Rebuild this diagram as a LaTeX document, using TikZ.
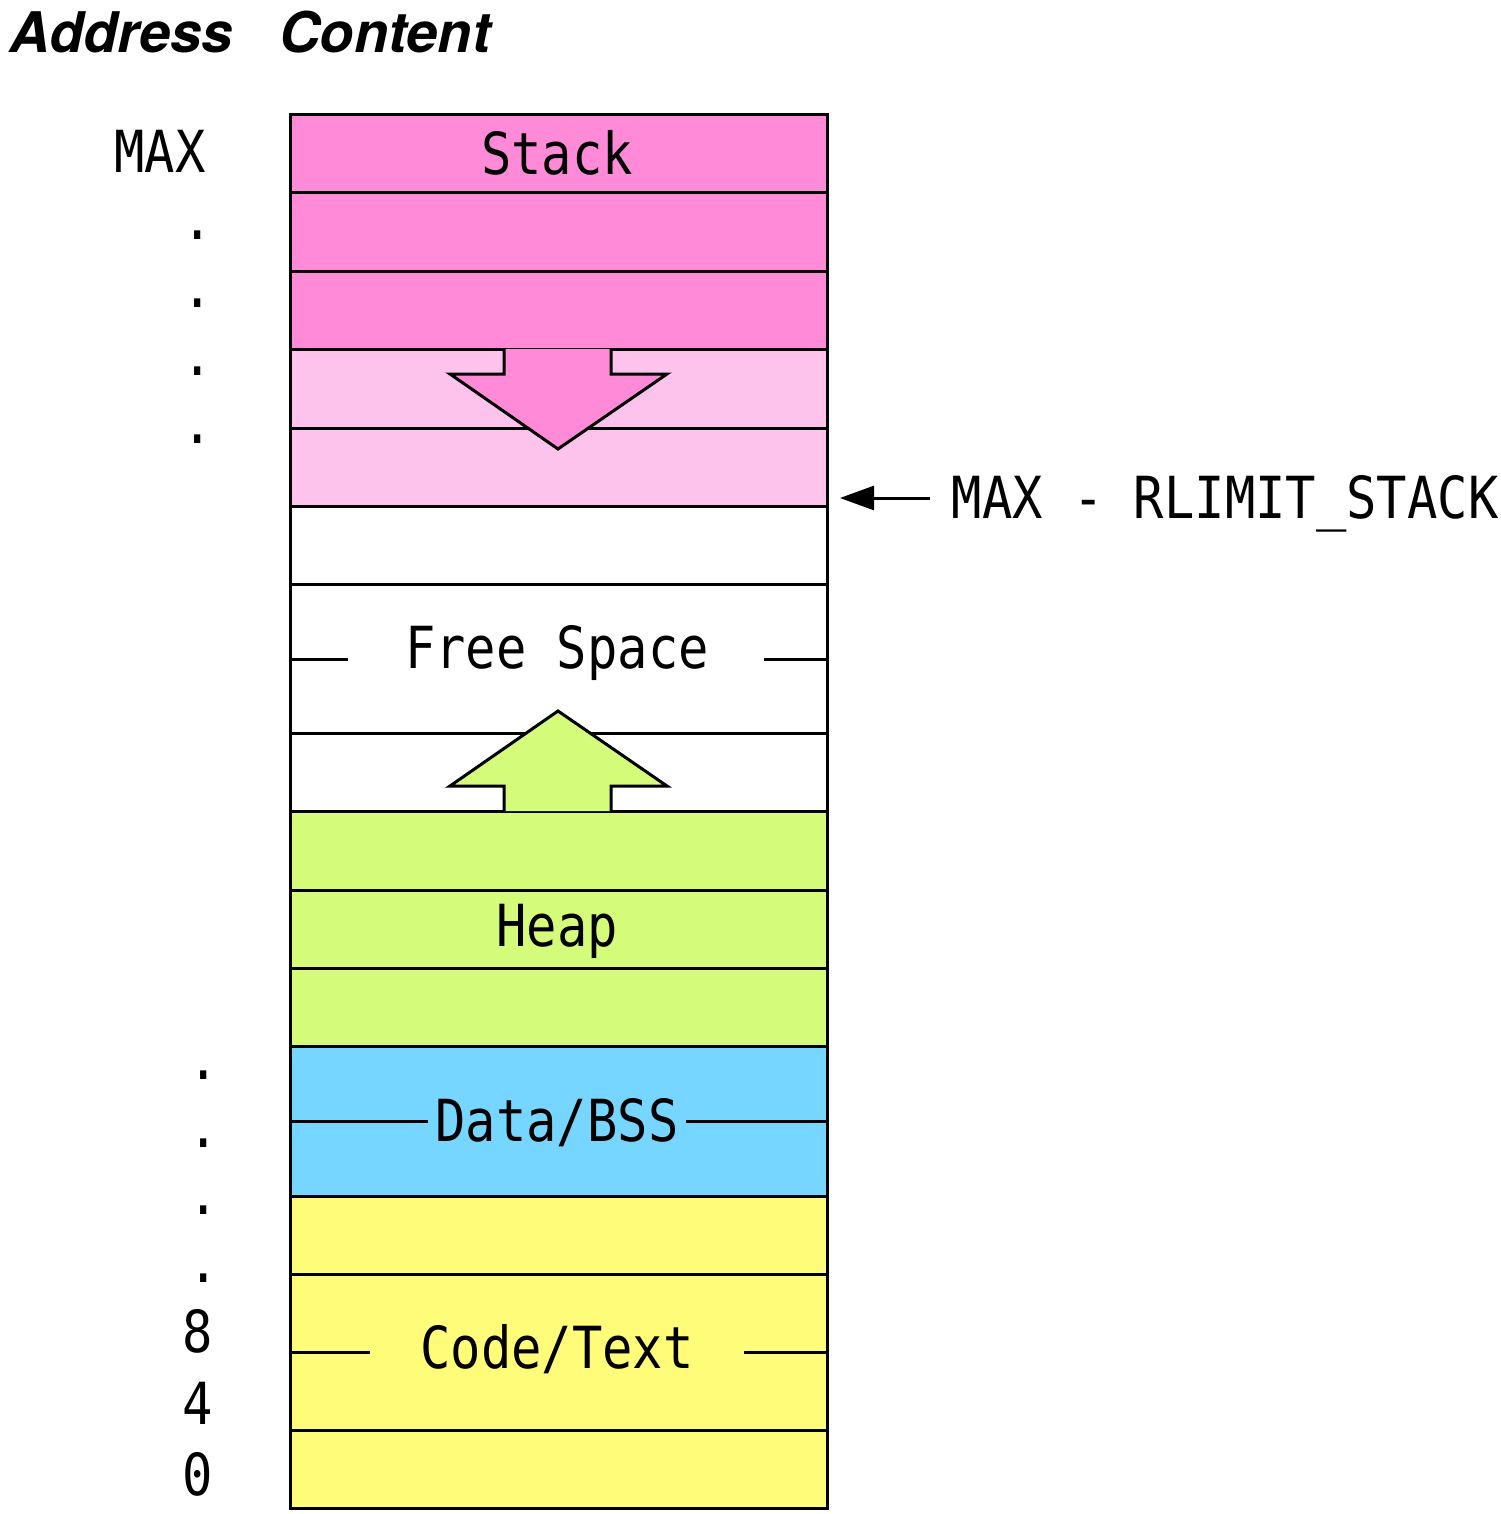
\documentclass[tikz,border=0pt]{standalone}
\usepackage{fontspec}
\setmonofont[FakeStretch=0.87]{DejaVu Sans Mono}
\newfontfamily\headfont{TeX Gyre Heros}
\usetikzlibrary{arrows.meta}
\definecolor{stackc}{HTML}{FF8AD8}
\definecolor{stacklt}{HTML}{FEC3EC}
\definecolor{heapc}{HTML}{D4FB79}
\definecolor{datac}{HTML}{76D6FF}
\definecolor{codec}{HTML}{FFFC79}
\begin{document}
\begin{tikzpicture}[x=0.5pt,y=-0.5pt,line width=1.5pt,
  mono/.style={font=\ttfamily\fontsize{29}{34}\selectfont,inner sep=0pt,anchor=base},
  head/.style={font=\headfont\bfseries\itshape\fontsize{28}{32}\selectfont,inner sep=0pt,anchor=base west},
  cell/.style={draw=black,line join=miter},
  bigarrow/.style={draw=black,line join=miter}]
\useasboundingbox (0,0) rectangle (1500,1514);
% headers
\node[head] (addr) at (8,53) {Address};
\node[head] (cont) at (278,53) {Content};
% rows
\filldraw[cell,fill=stackc] (290,115) rectangle (827,193);
\filldraw[cell,fill=stackc] (290,193) rectangle (827,271);
\filldraw[cell,fill=stackc] (290,271) rectangle (827,349);
\filldraw[cell,fill=stacklt] (290,349) rectangle (827,428);
\filldraw[cell,fill=stacklt] (290,428) rectangle (827,506);
\filldraw[cell,fill=white] (290,506) rectangle (827,584);
\filldraw[cell,fill=white] (290,584) rectangle (827,733);
\filldraw[cell,fill=white] (290,733) rectangle (827,811);
\filldraw[cell,fill=heapc] (290,811) rectangle (827,890);
\filldraw[cell,fill=heapc] (290,890) rectangle (827,968);
\filldraw[cell,fill=heapc] (290,968) rectangle (827,1046);
\filldraw[cell,fill=datac] (290,1046) rectangle (827,1196);
\filldraw[cell,fill=codec] (290,1196) rectangle (827,1274);
\filldraw[cell,fill=codec] (290,1274) rectangle (827,1430);
\filldraw[cell,fill=codec] (290,1430) rectangle (827,1508);
% partial lines
\draw (290,659) -- (348,659);
\draw (764,659) -- (827,659);
\draw (290,1121) -- (428,1121);
\draw (686,1121) -- (827,1121);
\draw (290,1352) -- (370,1352);
\draw (744,1352) -- (827,1352);
% big arrows
\filldraw[bigarrow,fill=stackc] (504,349) -- (504,374) -- (450,374) -- (558,449) -- (667,374) -- (611,374) -- (611,349);
\filldraw[bigarrow,fill=heapc] (504,811) -- (504,786) -- (450,786) -- (558,711) -- (667,786) -- (611,786) -- (611,811);
% labels in boxes
\node[mono] (stack) at (557,175) {Stack};
\node[mono] (free) at (557,668) {Free Space};
\node[mono] (heap) at (557,946) {Heap};
\node[mono] (data) at (557,1141) {Data/BSS};
\node[mono] (code) at (557,1368) {Code/Text};
% addresses
\node[mono] (amax) at (160,173) {MAX};
\node[mono] (d1) at (198,240) {.};
\node[mono] (d2) at (198,307) {.};
\node[mono] (d3) at (198,375) {.};
\node[mono] (d4) at (198,443) {.};
\node[mono] (d5) at (204,1079) {.};
\node[mono] (d6) at (204,1147) {.};
\node[mono] (d7) at (204,1214) {.};
\node[mono] (d8) at (204,1282) {.};
\node[mono] (a8) at (198,1352) {8};
\node[mono] (a4) at (198,1424) {4};
\node[mono] (a0) at (198,1495) {0};
% rlimit
\node[mono,anchor=base east] (rl) at (1500,518) {MAX - RLIMIT\_STACK};
\coordinate (ls) at (930,498);
\coordinate (le) at (840,498);
\draw[-{Triangle[length=17pt,width=12pt]}] (ls) -- (le);
\end{tikzpicture}
\end{document}
